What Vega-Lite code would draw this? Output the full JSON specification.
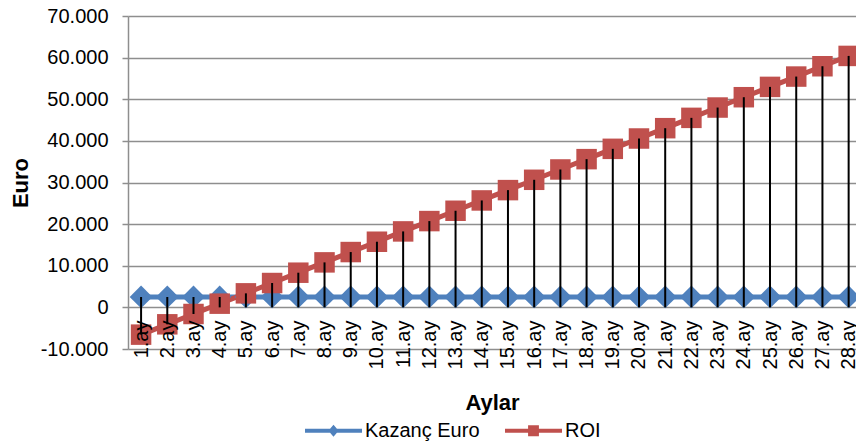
{
  "$schema": "https://vega.github.io/schema/vega-lite/v6.json",
  "autosize": "none",
  "width": 728,
  "height": 333,
  "padding": {"left": 128, "top": 16, "right": 0, "bottom": 94},
  "config": {
    "locale": {"number": {"decimal": ",", "thousands": ".", "grouping": [3], "currency": ["", ""], "minus": "-"}},
    "view": {"stroke": null},
    "font": "Liberation Sans",
    "axis": {"labelFont": "Liberation Sans", "titleFont": "Liberation Sans", "labelColor": "black", "titleColor": "black"},
    "legend": {"labelFont": "Liberation Sans", "labelColor": "black"}
  },
  "data": {
    "values": [
      {"ay": "1.ay", "kazanc": 2500, "roi": -6550},
      {"ay": "2.ay", "kazanc": 2500, "roi": -4070},
      {"ay": "3.ay", "kazanc": 2500, "roi": -1590},
      {"ay": "4.ay", "kazanc": 2500, "roi": 890},
      {"ay": "5.ay", "kazanc": 2500, "roi": 3370},
      {"ay": "6.ay", "kazanc": 2500, "roi": 5850},
      {"ay": "7.ay", "kazanc": 2500, "roi": 8330},
      {"ay": "8.ay", "kazanc": 2500, "roi": 10810},
      {"ay": "9.ay", "kazanc": 2500, "roi": 13290},
      {"ay": "10.ay", "kazanc": 2500, "roi": 15770},
      {"ay": "11.ay", "kazanc": 2500, "roi": 18250},
      {"ay": "12.ay", "kazanc": 2500, "roi": 20730},
      {"ay": "13.ay", "kazanc": 2500, "roi": 23210},
      {"ay": "14.ay", "kazanc": 2500, "roi": 25690},
      {"ay": "15.ay", "kazanc": 2500, "roi": 28170},
      {"ay": "16.ay", "kazanc": 2500, "roi": 30650},
      {"ay": "17.ay", "kazanc": 2500, "roi": 33130},
      {"ay": "18.ay", "kazanc": 2500, "roi": 35610},
      {"ay": "19.ay", "kazanc": 2500, "roi": 38090},
      {"ay": "20.ay", "kazanc": 2500, "roi": 40570},
      {"ay": "21.ay", "kazanc": 2500, "roi": 43050},
      {"ay": "22.ay", "kazanc": 2500, "roi": 45530},
      {"ay": "23.ay", "kazanc": 2500, "roi": 48010},
      {"ay": "24.ay", "kazanc": 2500, "roi": 50490},
      {"ay": "25.ay", "kazanc": 2500, "roi": 52970},
      {"ay": "26.ay", "kazanc": 2500, "roi": 55450},
      {"ay": "27.ay", "kazanc": 2500, "roi": 57930},
      {"ay": "28.ay", "kazanc": 2500, "roi": 60410}
    ]
  },
  "layer": [
    {
      "transform": [{"fold": ["kazanc", "roi"], "as": ["seri", "deger"]}],
      "mark": {"type": "line", "strokeWidth": 5},
      "encoding": {
        "x": {
          "field": "ay", "type": "ordinal", "sort": null, "title": "Aylar",
          "scale": {"type": "point", "padding": 0.39, "align": 0.64},
          "axis": {"labelAngle": -90, "labelFontSize": 20, "ticks": false, "domain": false, "grid": false, "labelPadding": -29, "labelOverlap": false, "titleFontSize": 22, "titleFontWeight": "bold", "titlePadding": 24, "zindex": 1}
        },
        "y": {
          "field": "deger", "type": "quantitative", "title": "Euro",
          "scale": {"domain": [-10000, 70000], "nice": false},
          "axis": {"values": [-10000, 0, 10000, 20000, 30000, 40000, 50000, 60000, 70000], "format": ",d", "labelFontSize": 20, "tickSize": 6, "tickColor": "#8e8e8e", "tickWidth": 1.5, "domainColor": "#8e8e8e", "domainWidth": 1.5, "gridColor": "#8e8e8e", "gridWidth": 1.5, "labelPadding": 14, "titleFontSize": 22, "titleFontWeight": "bold", "titlePadding": 8}
        },
        "color": {
          "field": "seri", "type": "nominal",
          "scale": {"domain": ["kazanc", "roi"], "range": ["#4F81BD", "#C0504D"]},
          "legend": {
            "title": null, "orient": "none", "legendX": 177, "legendY": 386, "direction": "horizontal",
            "columnPadding": 25, "labelOffset": 3, "labelFontSize": 20, "symbolSize": 3249,
            "labelExpr": "datum.value == 'kazanc' ? 'Kazanç Euro' : 'ROI'",
            "encode": {
              "symbols": {
                "update": {
                  "shape": {"signal": "datum.value == 'kazanc' ? 'M-1,-0.07L1,-0.07L1,0.07L-1,0.07Z M0,-0.21L0.18,0L0,0.21L-0.18,0Z' : 'M-1,-0.07L1,-0.07L1,0.07L-1,0.07Z M-0.19,-0.19L0.19,-0.19L0.19,0.19L-0.19,0.19Z'"},
                  "fill": {"scale": "color", "field": "value"},
                  "fillOpacity": {"value": 1},
                  "strokeWidth": {"value": 0}
                }
              }
            }
          }
        }
      }
    },
    {
      "mark": {"type": "point", "filled": true, "opacity": 1, "size": 520, "shape": "diamond", "color": "#4F81BD"},
      "encoding": {
        "x": {"field": "ay", "type": "ordinal", "sort": null, "title": "Aylar"},
        "y": {"field": "kazanc", "type": "quantitative", "title": "Euro"}
      }
    },
    {
      "mark": {"type": "point", "filled": true, "opacity": 1, "size": 420, "shape": "square", "color": "#C0504D"},
      "encoding": {
        "x": {"field": "ay", "type": "ordinal", "sort": null, "title": "Aylar"},
        "y": {"field": "roi", "type": "quantitative", "title": "Euro"}
      }
    },
    {
      "transform": [
        {"calculate": "max(datum.kazanc, datum.roi)", "as": "ust"},
        {"calculate": "min(datum.kazanc, datum.roi, 0)", "as": "alt"}
      ],
      "mark": {"type": "rule", "color": "black", "strokeWidth": 2},
      "encoding": {
        "x": {"field": "ay", "type": "ordinal", "sort": null, "title": "Aylar"},
        "y": {"field": "ust", "type": "quantitative", "title": "Euro"},
        "y2": {"field": "alt"}
      }
    }
  ]
}
